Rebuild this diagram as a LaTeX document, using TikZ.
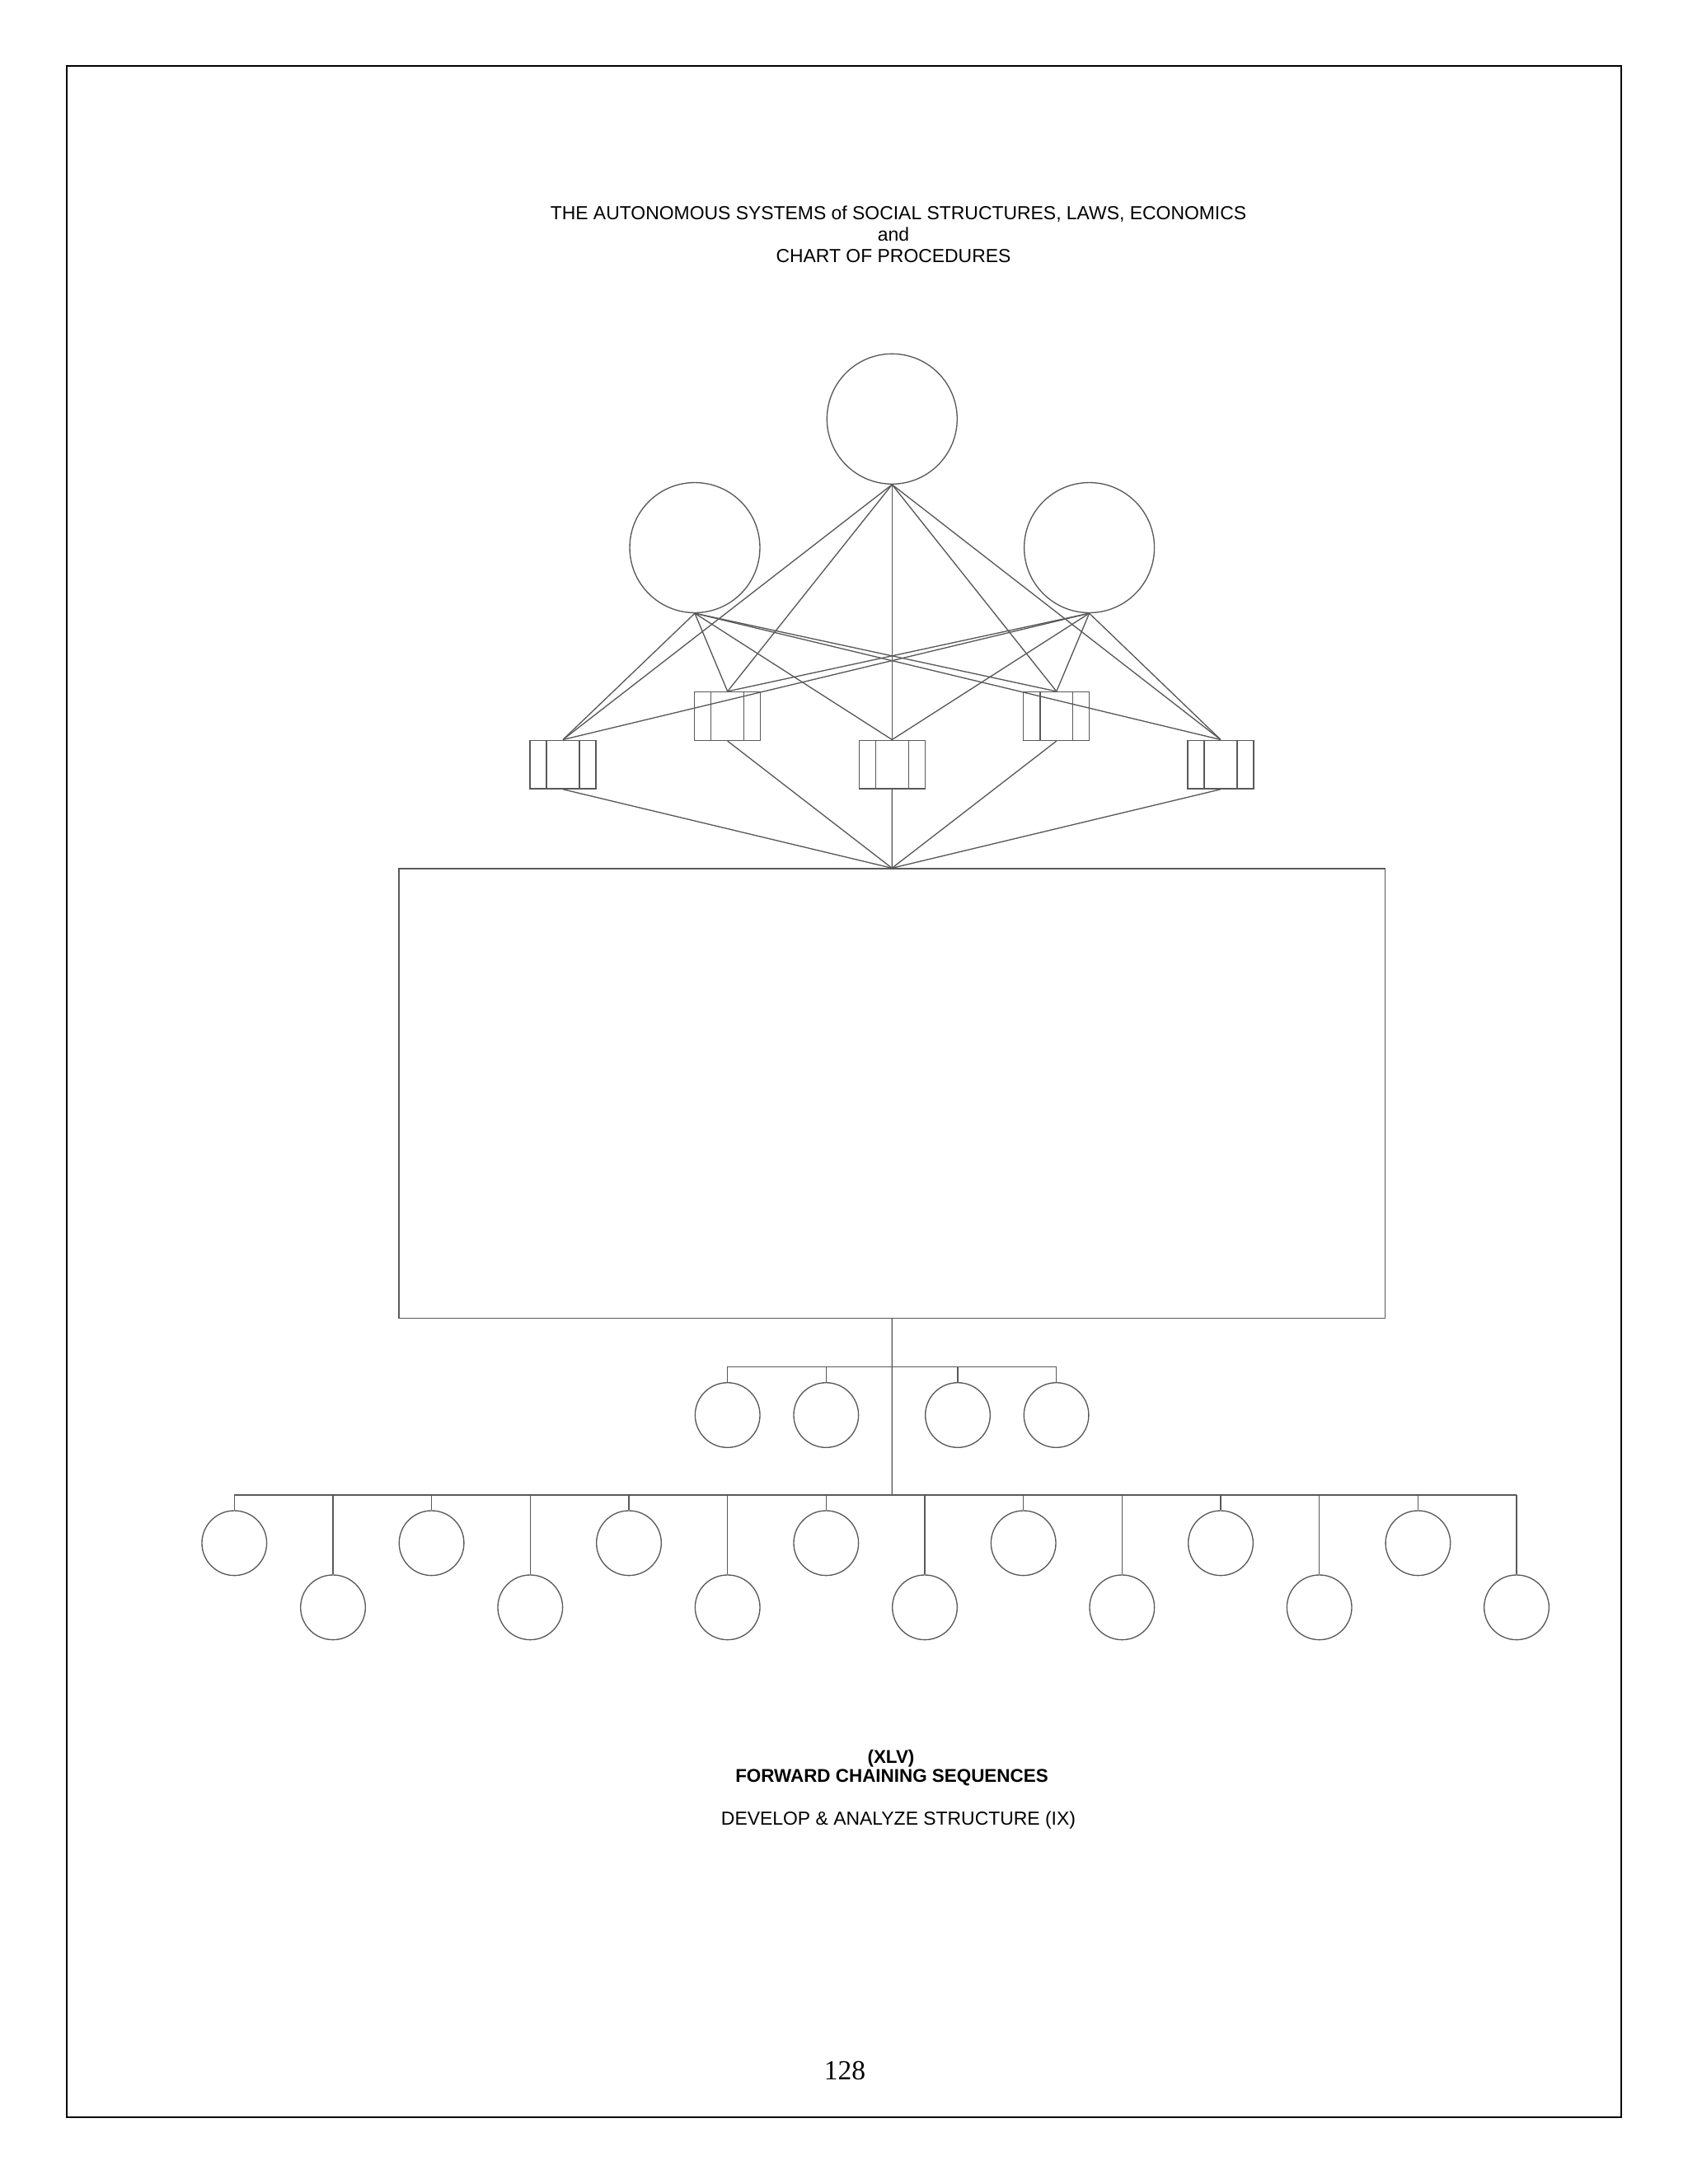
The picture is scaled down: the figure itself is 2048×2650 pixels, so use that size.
\documentclass[tikz,border=0pt]{standalone}
\usepackage{fontspec}
\setmainfont{Liberation Sans}
\newfontfamily\pagefont{Liberation Serif}
\tikzset{
  ring/.style={draw=black!65, line width=0.4pt, circle, inner sep=0pt, minimum size=47.2pt},
  bud/.style={draw=black!65, line width=0.4pt, circle, inner sep=0pt, minimum size=23.5pt},
  stepbox/.style={draw=black!65, line width=0.4pt, rectangle, inner sep=0pt,
    minimum width=23.9pt, minimum height=17.6pt,
    path picture={
      \draw[black!65, line width=0.4pt] ([xshift=5.98pt]path picture bounding box.north west) -- ([xshift=5.98pt]path picture bounding box.south west);
      \draw[black!65, line width=0.4pt] ([xshift=-5.98pt]path picture bounding box.north east) -- ([xshift=-5.98pt]path picture bounding box.south east);
    }},
  wire/.style={draw=black!65, line width=0.4pt},
  caption/.style={anchor=base, inner sep=0pt, font=\fontsize{6.85}{7.8}\selectfont}
}
\begin{document}
\begin{tikzpicture}[x=0.29885pt, y=-0.29885pt]
\useasboundingbox (0,0) rectangle (2048,2650);
\draw[line width=0.55pt] (80.7,80.3) rectangle (1967,2569);

\node[caption] (Title 1) at (1090,266) {THE AUTONOMOUS SYSTEMS of SOCIAL STRUCTURES, LAWS, ECONOMICS};
\node[caption] (Title 2) at (1084,292) {and};
\node[caption] (Title 3) at (1084,318) {CHART OF PROCEDURES};

% heads
\node[ring] (Head) at (1082.3,508.3) {};
\node[ring] (Left Head) at (843,664.5) {};
\node[ring] (Right Head) at (1321.6,664.5) {};

% steps
\node[stepbox] (Step 1) at (683,927.6) {};
\node[stepbox] (Step 2) at (882.7,869) {};
\node[stepbox] (Step 3) at (1082.3,927.6) {};
\node[stepbox] (Step 4) at (1281.8,869) {};
\node[stepbox] (Step 5) at (1481,927.6) {};

\node[draw=black!65, line width=0.4pt, minimum width=357.5pt, minimum height=163pt, inner sep=0pt] (Panel) at (1082.2,1326.7) {};

\coordinate (Mid Bus) at (1082.3,1658.3);
\coordinate (Low Bus) at (1082.3,1814);

\node[bud] (Mid 1) at (882.7,1717) {};
\node[bud] (Mid 2) at (1002.3,1717) {};
\node[bud] (Mid 3) at (1162,1717) {};
\node[bud] (Mid 4) at (1281.6,1717) {};

\node[bud] (Leaf 1) at (284.3,1872.3) {};
\node[bud] (Leaf 2) at (404,1950.3) {};
\node[bud] (Leaf 3) at (523.6,1872.3) {};
\node[bud] (Leaf 4) at (643.3,1950.3) {};
\node[bud] (Leaf 5) at (763,1872.3) {};
\node[bud] (Leaf 6) at (882.7,1950.3) {};
\node[bud] (Leaf 7) at (1002.3,1872.3) {};
\node[bud] (Leaf 8) at (1122,1950.3) {};
\node[bud] (Leaf 9) at (1241.7,1872.3) {};
\node[bud] (Leaf 10) at (1361.3,1950.3) {};
\node[bud] (Leaf 11) at (1481,1872.3) {};
\node[bud] (Leaf 12) at (1600.7,1950.3) {};
\node[bud] (Leaf 13) at (1720.4,1872.3) {};
\node[bud] (Leaf 14) at (1840,1950.3) {};

\draw[wire] (Head.south) -- (Step 1.north);
\draw[wire] (Head.south) -- (Step 2.north);
\draw[wire] (Head.south) -- (Step 3.north);
\draw[wire] (Head.south) -- (Step 4.north);
\draw[wire] (Head.south) -- (Step 5.north);
\draw[wire] (Left Head.south) -- (Step 1.north);
\draw[wire] (Left Head.south) -- (Step 2.north);
\draw[wire] (Left Head.south) -- (Step 3.north);
\draw[wire] (Left Head.south) -- (Step 4.north);
\draw[wire] (Left Head.south) -- (Step 5.north);
\draw[wire] (Right Head.south) -- (Step 1.north);
\draw[wire] (Right Head.south) -- (Step 2.north);
\draw[wire] (Right Head.south) -- (Step 3.north);
\draw[wire] (Right Head.south) -- (Step 4.north);
\draw[wire] (Right Head.south) -- (Step 5.north);
\draw[wire] (Step 1.south) -- (Panel.north);
\draw[wire] (Step 2.south) -- (Panel.north);
\draw[wire] (Step 3.south) -- (Panel.north);
\draw[wire] (Step 4.south) -- (Panel.north);
\draw[wire] (Step 5.south) -- (Panel.north);

\draw[wire] (Panel.south) -- (Low Bus);
\draw[wire] (Mid 1.north |- Mid Bus) -- (Mid 4.north |- Mid Bus);
\draw[wire] (Mid 1.north) -- (Mid 1.north |- Mid Bus);
\draw[wire] (Mid 2.north) -- (Mid 2.north |- Mid Bus);
\draw[wire] (Mid 3.north) -- (Mid 3.north |- Mid Bus);
\draw[wire] (Mid 4.north) -- (Mid 4.north |- Mid Bus);

\draw[wire] (Leaf 1.north |- Low Bus) -- (Leaf 14.north |- Low Bus);
\draw[wire] (Leaf 1.north) -- (Leaf 1.north |- Low Bus);
\draw[wire] (Leaf 2.north) -- (Leaf 2.north |- Low Bus);
\draw[wire] (Leaf 3.north) -- (Leaf 3.north |- Low Bus);
\draw[wire] (Leaf 4.north) -- (Leaf 4.north |- Low Bus);
\draw[wire] (Leaf 5.north) -- (Leaf 5.north |- Low Bus);
\draw[wire] (Leaf 6.north) -- (Leaf 6.north |- Low Bus);
\draw[wire] (Leaf 7.north) -- (Leaf 7.north |- Low Bus);
\draw[wire] (Leaf 8.north) -- (Leaf 8.north |- Low Bus);
\draw[wire] (Leaf 9.north) -- (Leaf 9.north |- Low Bus);
\draw[wire] (Leaf 10.north) -- (Leaf 10.north |- Low Bus);
\draw[wire] (Leaf 11.north) -- (Leaf 11.north |- Low Bus);
\draw[wire] (Leaf 12.north) -- (Leaf 12.north |- Low Bus);
\draw[wire] (Leaf 13.north) -- (Leaf 13.north |- Low Bus);
\draw[wire] (Leaf 14.north) -- (Leaf 14.north |- Low Bus);

\node[caption, font=\fontsize{6.7}{7.8}\selectfont\bfseries] (Number) at (1081,2139) {(XLV)};
\node[caption, font=\fontsize{6.7}{7.8}\selectfont\bfseries] (Heading) at (1082,2162) {FORWARD CHAINING SEQUENCES};
\node[caption] (Subheading) at (1090,2214) {DEVELOP \& ANALYZE STRUCTURE (IX)};
\node[caption, font=\pagefont\fontsize{10}{12}\selectfont] (Page) at (1025,2523) {128};
\end{tikzpicture}
\end{document}
